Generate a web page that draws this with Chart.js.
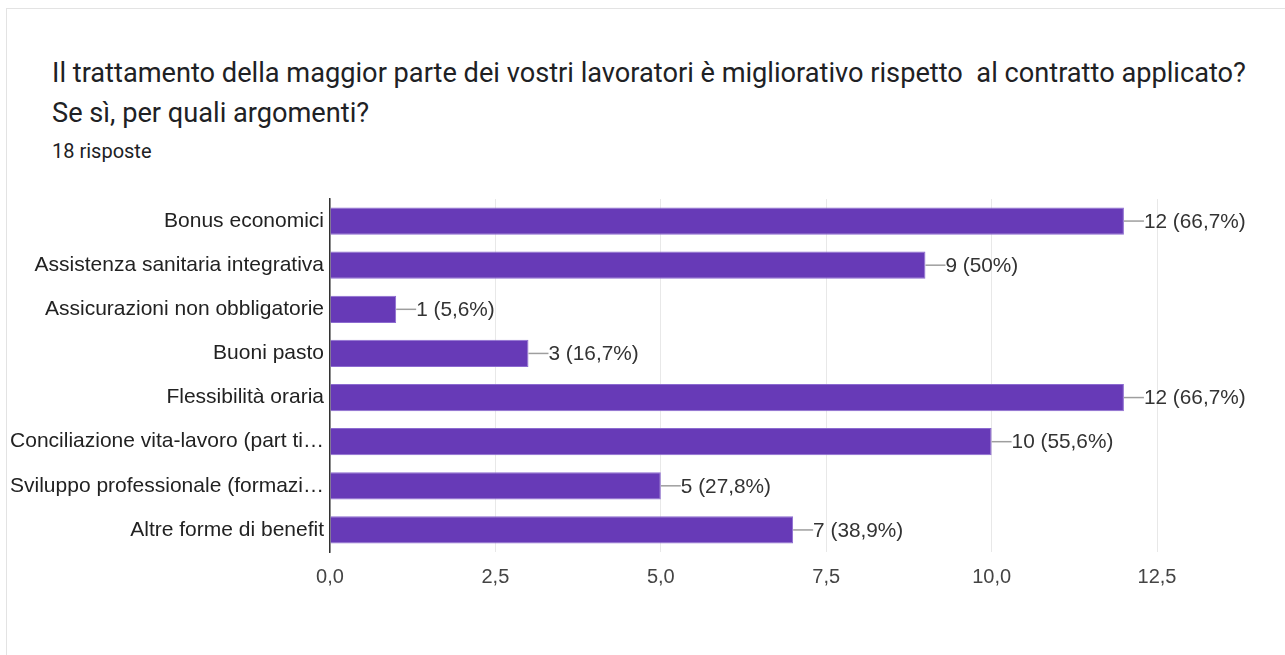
<!DOCTYPE html>
<html>
<head>
<meta charset="utf-8">
<script src="https://cdn.jsdelivr.net/npm/chart.js@4"></script>
<style>
  html, body { margin: 0; padding: 0; background: #fff; }
  body { width: 1285px; height: 655px; position: relative; overflow: hidden; }
  .card {
    position: absolute; left: 6px; top: 8px; width: 1285px; height: 660px;
    border: 1px solid #e3e3e3; box-sizing: border-box;
  }
  .title {
    position: absolute; left: 52px; top: 53px; margin: 0;
    font-family: Roboto, sans-serif; font-size: 27.2px; font-weight: 400;
    line-height: 40px; color: #202124; white-space: pre;
  }
  .sub {
    position: absolute; left: 52px; top: 139px;
    font-family: Roboto, sans-serif; font-size: 20px; color: #202124;
  }
  #chart { position: absolute; left: 0; top: 0; }
</style>
</head>
<body>
<div class="card"></div>
<div class="title">Il trattamento della maggior parte dei vostri lavoratori è migliorativo rispetto  al contratto applicato?
Se sì, per quali argomenti?</div>
<div class="sub">18 risposte</div>
<canvas id="chart" width="1285" height="655"></canvas>
<script>
// Data
const categories = [
  'Bonus economici',
  'Assistenza sanitaria integrativa',
  'Assicurazioni non obbligatorie',
  'Buoni pasto',
  'Flessibilità oraria',
  'Conciliazione vita-lavoro (part ti…',
  'Sviluppo professionale (formazi…',
  'Altre forme di benefit'
];
const counts = [12, 9, 1, 3, 12, 10, 5, 7];
const totalAnswers = 18;
const xTicks = [0, 2.5, 5, 7.5, 10, 12.5];

function fmtPct(v) {
  const p = Math.round(v / totalAnswers * 1000) / 10;
  return String(p).replace('.', ',') + '%';
}

// Draw "—12 (66,7%)" after each bar
const valueLabels = {
  id: 'valueLabels',
  afterDatasetsDraw(chart) {
    const ctx = chart.ctx;
    const meta = chart.getDatasetMeta(0);
    ctx.save();
    ctx.font = '20.8px "Liberation Sans", Arial, sans-serif';
    ctx.textBaseline = 'middle';
    ctx.textAlign = 'left';
    meta.data.forEach((bar, i) => {
      ctx.strokeStyle = '#9e9e9e';
      ctx.lineWidth = 1.5;
      ctx.beginPath();
      ctx.moveTo(bar.x, bar.y);
      ctx.lineTo(bar.x + 20, bar.y);
      ctx.stroke();
      ctx.fillStyle = '#333';
      ctx.fillText(counts[i] + ' (' + fmtPct(counts[i]) + ')', bar.x + 20, bar.y + 1);
    });
    ctx.restore();
  }
};

new Chart(document.getElementById('chart'), {
  type: 'bar',
  data: {
    labels: categories,
    datasets: [{
      data: counts,
      backgroundColor: '#673ab7',
      borderColor: '#8c6bd0',
      borderWidth: 1,
      barPercentage: 0.62,
      categoryPercentage: 1
    }]
  },
  options: {
    indexAxis: 'y',
    responsive: false,
    animation: false,
    layout: { padding: { top: 199, right: 128, bottom: 0, left: 0 } },
    plugins: { legend: { display: false }, tooltip: { enabled: false } },
    scales: {
      x: {
        min: 0, max: 12.5,
        afterBuildTicks(scale) { scale.ticks = xTicks.map(v => ({ value: v })); },
        afterFit(scale) { scale.height = 103; },
        grid: { color: '#e8e8e8', drawTicks: false },
        border: { display: false },
        ticks: {
          padding: 13,
          color: '#444',
          font: { family: '"Liberation Sans", Arial, sans-serif', size: 20 },
          callback: v => v.toFixed(1).replace('.', ',')
        }
      },
      y: {
        afterFit(scale) { scale.width = 330; },
        grid: { display: false, drawTicks: false },
        border: { display: true, color: '#333', width: 1.5 },
        ticks: {
          padding: 6,
          color: '#222',
          font: { family: '"Liberation Sans", Arial, sans-serif', size: 21 }
        }
      }
    }
  },
  plugins: [valueLabels]
});
</script>
</body>
</html>
